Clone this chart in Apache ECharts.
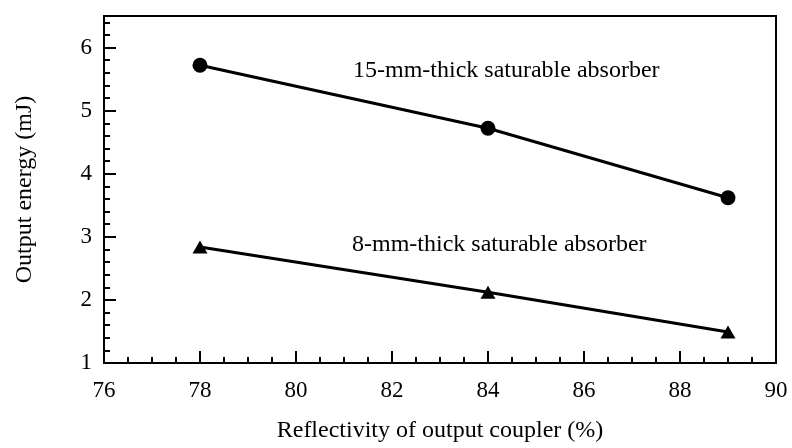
<!DOCTYPE html>
<html>
<head>
<meta charset="utf-8">
<script src="https://cdn.jsdelivr.net/npm/echarts@6/dist/echarts.min.js"></script>
<style>
  html, body { margin: 0; padding: 0; background: #fff; }
  #chart { width: 792px; height: 448px; }
</style>
</head>
<body>
<div id="chart"></div>
<script>
// Output coupler reflectivity (%) at which measurements were taken
const reflectivity = [78, 84, 89];
// Output energy (mJ) for each saturable absorber thickness
const energy15mm = [5.72, 4.72, 3.62];
const energy8mm = [2.84, 2.12, 1.49];
// Annotation texts
const label15mm = '15-mm-thick saturable absorber';
const label8mm = '8-mm-thick saturable absorber';
const xName = 'Reflectivity of output coupler (%)';
const yName = 'Output energy (mJ)';

const FONT = '"Liberation Serif", "Times New Roman", serif';
const chart = echarts.init(document.getElementById('chart'), null, { renderer: 'canvas' });

const grid = { left: 104, right: 16, top: 16, bottom: 82 };

function pairs(xs, ys) { return xs.map((x, i) => [x, ys[i]]); }

chart.setOption({
  animation: false,
  backgroundColor: '#fff',
  grid: Object.assign({ show: true, borderColor: '#000', borderWidth: 2, backgroundColor: 'transparent' }, grid),
  xAxis: [{
    type: 'value', min: 76, max: 90, interval: 2,
    name: xName, nameLocation: 'middle', nameGap: 56,
    nameTextStyle: { fontFamily: FONT, fontSize: 24, color: '#000' },
    axisLine: { lineStyle: { color: '#000', width: 2 } },
    axisTick: { inside: true, length: 12, lineStyle: { color: '#000', width: 2 } },
    minorTick: { show: true, splitNumber: 4, length: 6, lineStyle: { color: '#000', width: 2 } },
    axisLabel: { fontFamily: FONT, fontSize: 23, color: '#000', margin: 16 },
    splitLine: { show: false }
  }],
  yAxis: [{
    type: 'value', min: 1, max: 6.5, interval: 1,
    name: yName, nameLocation: 'middle', nameGap: 67,
    nameTextStyle: { fontFamily: FONT, fontSize: 24, color: '#000' },
    axisLine: { lineStyle: { color: '#000', width: 2 } },
    axisTick: { inside: true, length: 12, lineStyle: { color: '#000', width: 2 } },
    axisLabel: {
      fontFamily: FONT, fontSize: 23, color: '#000', margin: 12,
      formatter: v => (Number.isInteger(v) ? String(v) : '')
    },
    splitLine: { show: false }
  }, {
    // fine ticks every 0.2 mJ
    type: 'value', min: 1, max: 6.5, interval: 0.2, position: 'left',
    axisLine: { show: false },
    axisTick: { inside: true, length: 6, lineStyle: { color: '#000', width: 2 } },
    axisLabel: { show: false },
    splitLine: { show: false }
  }],
  series: [{
    name: label15mm, type: 'line',
    data: pairs(reflectivity, energy15mm),
    symbol: 'circle', symbolSize: 15,
    lineStyle: { color: '#000', width: 3 },
    itemStyle: { color: '#000' }
  }, {
    name: label8mm, type: 'line',
    data: pairs(reflectivity, energy8mm),
    symbol: 'triangle', symbolSize: [15, 13],
    lineStyle: { color: '#000', width: 3 },
    itemStyle: { color: '#000' }
  }],
  graphic: [{
    type: 'text', left: 353, top: 59,
    style: { text: label15mm, font: '24px ' + FONT, fill: '#000' }
  }, {
    type: 'text', left: 352, top: 233,
    style: { text: label8mm, font: '24px ' + FONT, fill: '#000' }
  }]
});
</script>
</body>
</html>
